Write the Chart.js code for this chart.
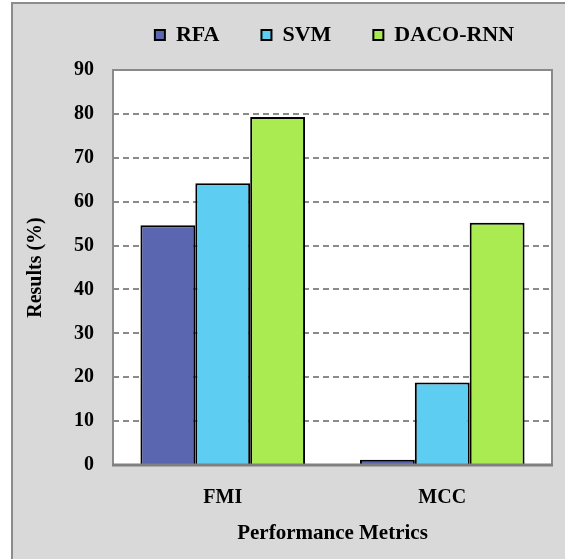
<!DOCTYPE html>
<html>
<head>
<meta charset="utf-8">
<script src="https://cdn.jsdelivr.net/npm/chart.js@4.4.1/dist/chart.umd.min.js"></script>
<style>
  body { margin: 0; background: #ffffff; }
  #frame {
    position: absolute; left: 11px; top: 2px;
    width: 552px; height: 555px;
    border-left: 2px solid #8c8c8c; border-top: 2px solid #8c8c8c;
    background: #d9d9d9;
  }
</style>
</head>
<body>
<div id="frame"><canvas id="chart"></canvas></div>
<script>
const categories = ['FMI', 'MCC'];
const seriesNames = ['RFA', 'SVM', 'DACO-RNN'];
const rfaValues = [54.6, 1.2];
const svmValues = [64.2, 18.8];
const dacoValues = [79.3, 55.2];
const seriesColors = ['#5a66b0', '#5ecdf2', '#aaeb52'];

const serif = '"Liberation Serif", "Times New Roman", serif';

// white plot area + grey frame like the original excel chart
const plotFrame = {
  id: 'plotFrame',
  beforeDraw(chart) {
    const { ctx, chartArea: a } = chart;
    ctx.save();
    ctx.fillStyle = '#ffffff';
    ctx.fillRect(a.left, a.top, a.right - a.left, a.bottom - a.top);
    ctx.restore();
  },
  afterDatasetsDraw(chart) {
    const { ctx, chartArea: a } = chart;
    ctx.save();
    ctx.strokeStyle = '#8a8a8a';
    ctx.lineWidth = 2;
    ctx.strokeRect(a.left, a.top, a.right - a.left, a.bottom - a.top);
    ctx.strokeStyle = '#808080';
    ctx.lineWidth = 3;
    ctx.beginPath();
    ctx.moveTo(a.left - 1, a.bottom);
    ctx.lineTo(a.right + 1, a.bottom);
    ctx.stroke();
    ctx.restore();
  },
  afterLayout(chart) {
    // nudge the legend to where it sits in the reference
    const lg = chart.legend;
    lg.left += 52; lg.right += 52;
    lg.top -= 14; lg.bottom -= 14;
  }
};

new Chart(document.getElementById('chart'), {
  type: 'bar',
  data: {
    labels: categories,
    datasets: [
      { label: seriesNames[0], data: rfaValues, backgroundColor: seriesColors[0] },
      { label: seriesNames[1], data: svmValues, backgroundColor: seriesColors[1] },
      { label: seriesNames[2], data: dacoValues, backgroundColor: seriesColors[2] }
    ].map(d => ({ ...d, borderColor: '#000000', borderWidth: 2, categoryPercentage: 0.75, barPercentage: 1.0 }))
  },
  options: {
    responsive: true,
    maintainAspectRatio: false,
    animation: false,
    layout: { padding: { top: -8, right: 13, bottom: 0, left: 0 } },
    plugins: {
      tooltip: { enabled: false },
      legend: {
        position: 'top',
        labels: {
          boxWidth: 10,
          boxHeight: 10,
          padding: 42,
          color: '#000000',
          font: { family: serif, size: 22, weight: 'bold' }
        }
      }
    },
    scales: {
      x: {
        grid: { display: false },
        border: { display: false },
        ticks: {
          padding: 13,
          color: '#000000',
          font: { family: serif, size: 20, weight: 'bold' }
        },
        title: {
          display: true,
          text: 'Performance Metrics',
          color: '#000000',
          padding: { top: 0, bottom: 13 },
          font: { family: serif, size: 21, weight: 'bold' }
        },
        afterFit(scale) { scale.height = 94; }
      },
      y: {
        min: 0,
        max: 90,
        grid: {
          drawTicks: false,
          lineWidth: 2,
          color: ctx => (ctx.tick && (ctx.tick.value === 0 || ctx.tick.value === 90)) ? 'rgba(0,0,0,0)' : '#8a8a8a'
        },
        border: { display: false, dash: [6, 4] },
        ticks: {
          stepSize: 10,
          padding: 19,
          color: '#000000',
          font: { family: serif, size: 20, weight: 'bold' }
        },
        title: {
          display: true,
          text: 'Results (%)',
          color: '#000000',
          padding: { top: 11, bottom: 0 },
          font: { family: serif, size: 20, weight: 'bold' }
        },
        afterFit(scale) { scale.width = 100; }
      }
    }
  },
  plugins: [plotFrame]
});
</script>
</body>
</html>
